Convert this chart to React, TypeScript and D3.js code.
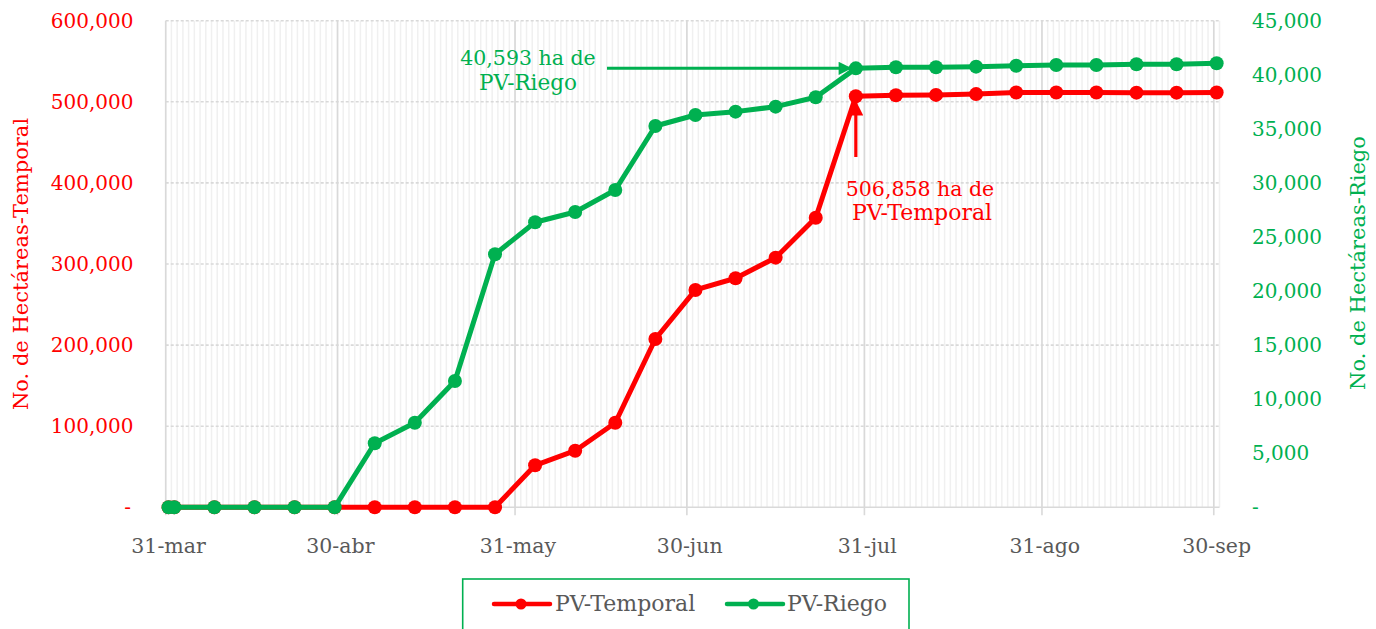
import React from "react";
import * as d3 from "d3";

const DATES = [
  "2023-03-31", "2023-04-01", "2023-04-08", "2023-04-15", "2023-04-22", "2023-04-29",
  "2023-05-06", "2023-05-13", "2023-05-20", "2023-05-27", "2023-06-03", "2023-06-10",
  "2023-06-17", "2023-06-24", "2023-07-01", "2023-07-08", "2023-07-15", "2023-07-22",
  "2023-07-29", "2023-08-05", "2023-08-12", "2023-08-19", "2023-08-26", "2023-09-02",
  "2023-09-09", "2023-09-16", "2023-09-23", "2023-09-30",
];

const TEMPORAL = [
  0, 0, 0, 0, 0, 0,
  0, 0, 0, 0, 51800, 69800,
  104300, 207500, 268000, 282400, 307800, 357100,
  506858, 508000, 508500, 509500, 511500, 511500,
  511500, 511300, 511300, 511500,
];

const RIEGO = [
  0, 0, 0, 0, 0, 0,
  5920, 7820, 11680, 23400, 26360, 27310,
  29340, 35260, 36280, 36590, 37050, 37920,
  40593, 40690, 40700, 40750, 40840, 40900,
  40900, 40970, 40970, 41060,
];

const X_TICK_DATES = ["2023-03-31", "2023-04-30", "2023-05-31", "2023-06-30", "2023-07-31", "2023-08-31", "2023-09-30"];
const X_TICK_LABELS = ["31-mar", "30-abr", "31-may", "30-jun", "31-jul", "31-ago", "30-sep"];
const LEFT_TICKS = [0, 100000, 200000, 300000, 400000, 500000, 600000];
const RIGHT_TICKS = [0, 5000, 10000, 15000, 20000, 25000, 30000, 35000, 40000, 45000];

const RED = "#ff0000";
const GREEN = "#00b050";
const GRAY = "#595959";
const FONT = "DejaVu Serif";

export default function App() {
  const parse = d3.utcParse("%Y-%m-%d");
  const start = parse("2023-03-31")!;
  const end = parse("2023-10-01")!;
  const left = 165.7, right = 1219.5, top = 20.7, bottom = 507.3;

  const x = d3.scaleUtc().domain([start, end]).range([left, right]);
  const yL = d3.scaleLinear().domain([0, 600000]).range([bottom, top]);
  const yR = d3.scaleLinear().domain([0, 45000]).range([bottom, top]);

  const mid = (s: string) => d3.utcHour.offset(parse(s)!, 12);
  const days = d3.utcDay.range(start, d3.utcDay.offset(end, 1));
  const fmt = d3.format(",");

  const tempPts = DATES.map((d, i) => [x(mid(d)), yL(TEMPORAL[i])] as [number, number]);
  const riegoPts = DATES.map((d, i) => [x(mid(d)), yR(RIEGO[i])] as [number, number]);
  const line = d3.line();

  const iAnn = DATES.indexOf("2023-07-29");
  const gP = riegoPts[iAnn];
  const rP = tempPts[iAnn];

  return (
    <svg width={1376} height={629} style={{ position: "absolute", left: 0, top: 0, display: "block" }} fontFamily={FONT}>
      <defs>
        <marker id="ahG" viewBox="0 0 10 10" refX="10" refY="5" markerWidth="6.5" markerHeight="4.4" orient="auto" markerUnits="strokeWidth">
          <path d="M0,0 L10,5 L0,10 z" fill={GREEN} />
        </marker>
        <marker id="ahR" viewBox="0 0 10 10" refX="10" refY="5" markerWidth="6.8" markerHeight="4.6" orient="auto" markerUnits="strokeWidth">
          <path d="M0,0 L10,5 L0,10 z" fill={RED} />
        </marker>
      </defs>
      {/* daily minor gridlines */}
      {days.map((d, i) => (
        <line key={"m" + i} x1={x(d)} x2={x(d)} y1={top} y2={bottom} stroke="#f0f0f0" strokeWidth={1.5} />
      ))}
      {/* horizontal dashed gridlines */}
      {LEFT_TICKS.filter((v) => v > 0).map((v) => (
        <line key={"h" + v} x1={left} x2={right} y1={yL(v)} y2={yL(v)} stroke="#d9d9d9" strokeWidth={1.6} strokeDasharray="3,2" />
      ))}
      {/* major vertical lines */}
      {X_TICK_DATES.map((s) => (
        <line key={"M" + s} x1={x(parse(s)!)} x2={x(parse(s)!)} y1={top} y2={bottom + 8} stroke="#d9d9d9" strokeWidth={1.6} />
      ))}
      <line x1={left} x2={right} y1={bottom} y2={bottom} stroke="#d9d9d9" strokeWidth={1.6} />

      {/* left ticks */}
      {LEFT_TICKS.map((v) => (
        <text key={"l" + v} x={v === 0 ? 131 : 133.5} y={yL(v) + 7} textAnchor="end" fontSize={20} fill={RED}>
          {v === 0 ? "-" : fmt(v)}
        </text>
      ))}
      {/* right ticks */}
      {RIGHT_TICKS.map((v) => (
        <text key={"r" + v} x={1252} y={yR(v) + 7} textAnchor="start" fontSize={20} fill={GREEN}>
          {v === 0 ? "-" : fmt(v)}
        </text>
      ))}
      {/* x ticks */}
      {X_TICK_DATES.map((s, i) => (
        <text key={"x" + s} x={x(mid(s))} y={553} textAnchor="middle" fontSize={20.5} fill={GRAY}>
          {X_TICK_LABELS[i]}
        </text>
      ))}

      {/* axis titles */}
      <text transform="translate(21,264) rotate(-90)" textAnchor="middle" dominantBaseline="central" fontSize={21} fill={RED}>
        No. de Hectáreas-Temporal
      </text>
      <text transform="translate(1358,263) rotate(-90)" textAnchor="middle" dominantBaseline="central" fontSize={21} fill={GREEN}>
        No. de Hectáreas-Riego
      </text>

      {/* series */}
      <path d={line(tempPts)!} fill="none" stroke={RED} strokeWidth={5} strokeLinejoin="round" />
      {tempPts.map((p, i) => (
        <circle key={"tp" + i} cx={p[0]} cy={p[1]} r={7} fill={RED} />
      ))}
      <path d={line(riegoPts)!} fill="none" stroke={GREEN} strokeWidth={5} strokeLinejoin="round" />
      {riegoPts.map((p, i) => (
        <circle key={"rp" + i} cx={p[0]} cy={p[1]} r={7} fill={GREEN} />
      ))}

      {/* annotations */}
      <line x1={607} y1={gP[1]} x2={gP[0] - 4} y2={gP[1]} stroke={GREEN} strokeWidth={3} markerEnd="url(#ahG)" />
      <text x={528} y={65} textAnchor="middle" fontSize={20.5} fill={GREEN}>40,593 ha de</text>
      <text x={528} y={90} textAnchor="middle" fontSize={21.5} fill={GREEN}>PV-Riego</text>

      <line x1={rP[0]} y1={157} x2={rP[0]} y2={rP[1] + 4.5} stroke={RED} strokeWidth={3.2} markerEnd="url(#ahR)" />
      <text x={920} y={196} textAnchor="middle" fontSize={20.5} fill={RED}>506,858 ha de</text>
      <text x={922} y={220} textAnchor="middle" fontSize={22} fill={RED}>PV-Temporal</text>

      {/* legend */}
      <rect x={462.7} y={579} width={446.3} height={70} fill="white" stroke={GREEN} strokeWidth={1.6} />
      <line x1={494} x2={550} y1={604} y2={604} stroke={RED} strokeWidth={4.5} strokeLinecap="round" />
      <circle cx={521} cy={604} r={5.5} fill={RED} />
      <text x={555} y={611} fontSize={22} fill={GRAY}>PV-Temporal</text>
      <line x1={727} x2={783} y1={604} y2={604} stroke={GREEN} strokeWidth={4.5} strokeLinecap="round" />
      <circle cx={753.5} cy={604} r={5.5} fill={GREEN} />
      <text x={787} y={611} fontSize={22} fill={GRAY}>PV-Riego</text>
    </svg>
  );
}
